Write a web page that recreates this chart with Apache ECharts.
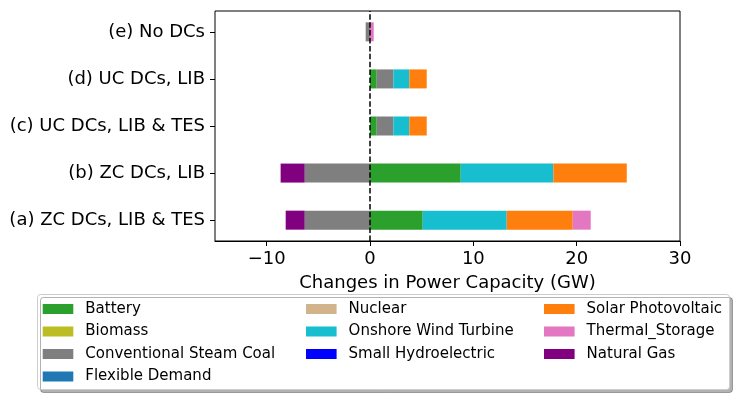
<!DOCTYPE html>
<html>
<head>
    <meta charset="utf-8">
    <script src="https://cdn.jsdelivr.net/npm/echarts@6/dist/echarts.min.js"></script>
    <style>
        html, body { margin: 0; padding: 0; background: #fff; }
    </style>
</head>
<body>
<div id="main" style="width: 738px;height:399px;"></div>
<script type="text/javascript">
    // categories, bottom to top
    var categories = ['(a) ZC DCs, LIB & TES', '(b) ZC DCs, LIB', '(c) UC DCs, LIB & TES', '(d) UC DCs, LIB', '(e) No DCs'];

    // changes in power capacity (GW), one value per category
    var battery  = [5.1, 8.78, 0.65, 0.65, 0];
    var biomass  = [0, 0, 0, 0, 0];
    var coal     = [-6.32, -6.32, 1.61, 1.61, -0.42];
    var flexible = [0, 0, 0, 0, 0];
    var nuclear  = [0, 0, 0, 0, 0];
    var wind     = [8.13, 8.96, 1.55, 1.55, 0];
    var hydro    = [0, 0, 0, 0, 0];
    var solar    = [6.39, 7.11, 1.68, 1.68, 0];
    var thermal  = [1.74, 0, 0, 0, 0.36];
    var gas      = [-1.84, -2.33, 0, 0, 0];

    var xTicks = [-10, 0, 10, 20, 30];
    var zeroLine = [[0, 0], [0, 1]];

    var FONT = 'DejaVu Sans';
    var myChart = echarts.init(document.getElementById('main'));

    function bar(name, data, color) {
        return {
            name: name,
            type: 'bar',
            stack: 'total',
            xAxisIndex: 0,
            yAxisIndex: 0,
            barWidth: 19,
            itemStyle: { color: color },
            emphasis: { disabled: true },
            data: data
        };
    }

    function legendCol(left, names) {
        return {
            orient: 'vertical',
            left: left,
            top: 301.5,
            padding: 0,
            icon: 'rect',
            itemWidth: 30.6,
            itemHeight: 10,
            itemGap: 7.5,
            selectedMode: false,
            textStyle: { fontFamily: FONT, fontSize: 15, lineHeight: 15, color: '#000', padding: [0, 0, 0, 7] },
            data: names
        };
    }

    var minus = function (v) { return String(v).replace('-', '\u2212'); };

    var option = {
        animation: false,
        textStyle: { fontFamily: FONT },
        grid: [
            // bars: category bands sized to the reference spacing
            { left: 215, right: 58, top: 8.3, bottom: 155.3, show: false },
            // axes frame
            { left: 215, right: 58, top: 11, bottom: 158, show: true, borderColor: '#000', borderWidth: 1, backgroundColor: 'transparent' }
        ],
        xAxis: [
            { type: 'value', gridIndex: 0, min: -15, max: 30, show: false },
            {
                type: 'value', gridIndex: 1, min: -15, max: 30,
                splitLine: { show: false },
                axisLine: { show: true, lineStyle: { color: '#000', width: 1 } },
                axisTick: { show: true, length: 5, lineStyle: { color: '#000' }, customValues: xTicks },
                axisLabel: { fontSize: 18, color: '#000', margin: 9, customValues: xTicks, formatter: minus },
                name: 'Changes in Power Capacity (GW)',
                nameLocation: 'middle',
                nameGap: 33,
                nameTextStyle: { fontSize: 18, color: '#000', fontFamily: FONT }
            }
        ],
        yAxis: [
            {
                type: 'category', gridIndex: 0, data: categories,
                axisLine: { show: false, onZero: false },
                axisTick: { show: true, alignWithLabel: true, length: 5, lineStyle: { color: '#000' } },
                axisLabel: { fontSize: 18, color: '#000', margin: 10 },
                splitLine: { show: false }
            },
            { type: 'value', gridIndex: 1, min: 0, max: 1, show: false }
        ],
        legend: [
            legendCol(42.7, ['Battery', 'Biomass', 'Conventional Steam Coal', 'Flexible Demand']),
            legendCol(306, ['Nuclear', 'Onshore Wind Turbine', 'Small Hydroelectric']),
            legendCol(544, ['Solar Photovoltaic', 'Thermal_Storage', 'Natural Gas'])
        ],
        graphic: [{
            type: 'rect',
            z: 0,
            shape: { x: 37.5, y: 294.5, width: 692, height: 95, r: 3 },
            style: {
                fill: '#fff', stroke: '#cccccc', lineWidth: 1,
                shadowColor: 'rgba(0,0,0,0.3)', shadowOffsetX: 3, shadowOffsetY: 3, shadowBlur: 0
            }
        }],
        series: [
            bar('Battery', battery, '#2ca02c'),
            bar('Biomass', biomass, '#bcbd22'),
            bar('Conventional Steam Coal', coal, '#7f7f7f'),
            bar('Flexible Demand', flexible, '#1f77b4'),
            bar('Nuclear', nuclear, '#d2b48c'),
            bar('Onshore Wind Turbine', wind, '#17becf'),
            bar('Small Hydroelectric', hydro, '#0000ff'),
            bar('Solar Photovoltaic', solar, '#ff7f0e'),
            bar('Thermal_Storage', thermal, '#e377c2'),
            bar('Natural Gas', gas, '#800080'),
            {
                type: 'line',
                xAxisIndex: 1,
                yAxisIndex: 1,
                data: zeroLine,
                symbol: 'none',
                z: 5,
                silent: true,
                lineStyle: { color: '#000', width: 1.5, type: [5.5, 2.4] }
            }
        ]
    };
    myChart.setOption(option);
</script>
</body>
</html>
